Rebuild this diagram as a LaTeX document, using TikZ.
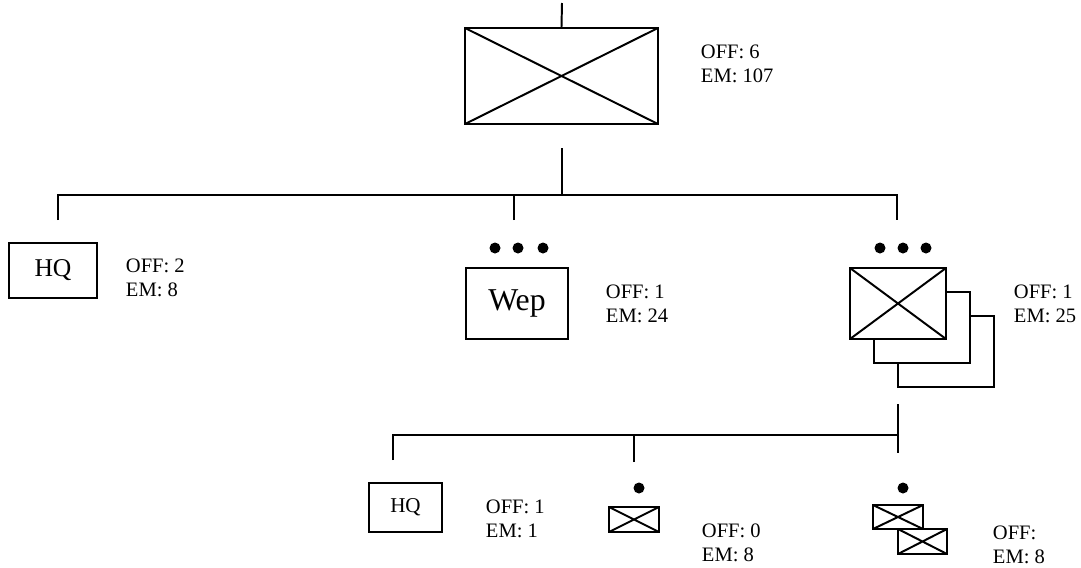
\documentclass[tikz,border=0pt]{standalone}
\usepackage{fontspec}
\setmainfont{Liberation Serif}
\usepackage{tikz}
\usetikzlibrary{positioning,calc}

\begin{document}
\begin{tikzpicture}[
    x=0.025cm, y=-0.025cm, line width=1.4pt,
    unit/.style={draw, fill=white, inner sep=0pt},
    crossed/.style={unit, path picture={\draw[line width=1.4pt] (path picture bounding box.north west) -- (path picture bounding box.south east) (path picture bounding box.south west) -- (path picture bounding box.north east);}},
    strength/.style={anchor=base west, align=left, inner sep=0pt, font=\fontsize{14.6}{17}\selectfont}
]
\useasboundingbox (0,0) rectangle (1081,567);

% top level
\node[crossed, minimum width=4.825cm, minimum height=2.4cm] (hq) at (561.5,76) {};
\coordinate (top) at (562,3);
\draw (top) -- (hq.north);
\node[strength] (hqs) at (700,82) {OFF: 6\\EM: 107};

% level 1 bus
\coordinate (bin) at (562,148);
\coordinate (bus) at (562,195);
\coordinate (d1) at (58,220);
\coordinate (d2) at (514,220);
\coordinate (d3) at (897,220);
\draw (bin) -- (bus);
\draw (d1) -- (d1 |- bus) -- (d3 |- bus) -- (d3);
\draw (d2) -- (d2 |- bus);

% headquarters
\node[unit, minimum width=2.2cm, minimum height=1.375cm, font=\fontsize{18.2}{20}\selectfont] (hqa) at (53,270.5) {HQ};
\node[strength] (hqas) at (125,296) {OFF: 2\\EM: 8};

% weapons
\node[unit, minimum width=2.55cm, minimum height=1.775cm, font=\fontsize{22.6}{24}\selectfont] (wep) at (517,303.5) {Wep};
\foreach \x in {495,518,543} \fill (\x,248) circle (0.1375cm);
\node[strength] (weps) at (605,322) {OFF: 1\\EM: 24};

% three companies
\node[unit, minimum width=2.4cm, minimum height=1.775cm] (coy3) at (946,351.5) {};
\node[unit, minimum width=2.4cm, minimum height=1.775cm] (coy2) at (922,327.5) {};
\node[crossed, minimum width=2.4cm, minimum height=1.775cm] (coy1) at (898,303.5) {};
\foreach \x in {880,903,926} \fill (\x,248) circle (0.1375cm);
\node[strength] (coys) at (1013,322) {OFF: 1\\EM: 25};

% level 2 bus
\coordinate (cin) at (898,404);
\coordinate (cbus) at (898,435);
\coordinate (e1) at (393,460);
\coordinate (e2) at (634,462);
\coordinate (e3) at (898,453);
\draw (cin) -- (e3);
\draw (e1) -- (e1 |- cbus) -- (cbus);
\draw (e2) -- (e2 |- cbus);

% company hq
\node[unit, minimum width=1.825cm, minimum height=1.225cm, font=\fontsize{15}{17}\selectfont] (chq) at (405.5,507.5) {HQ};
\node[strength] (chqs) at (485,537) {OFF: 1\\EM: 1};

% section
\node[crossed, minimum width=1.25cm, minimum height=0.625cm] (sec) at (634,519.5) {};
\fill (639,488) circle (0.1375cm);
\node[strength] (secs) at (701,561) {OFF: 0\\EM: 8};

% two sections
\node[crossed, minimum width=1.225cm, minimum height=0.625cm] (secb) at (922.5,541.5) {};
\node[crossed, minimum width=1.25cm, minimum height=0.6cm] (seca) at (898,517) {};
\fill (903,488) circle (0.1375cm);
\node[strength] (secss) at (992,563) {OFF:\\EM: 8};
\end{tikzpicture}
\end{document}
